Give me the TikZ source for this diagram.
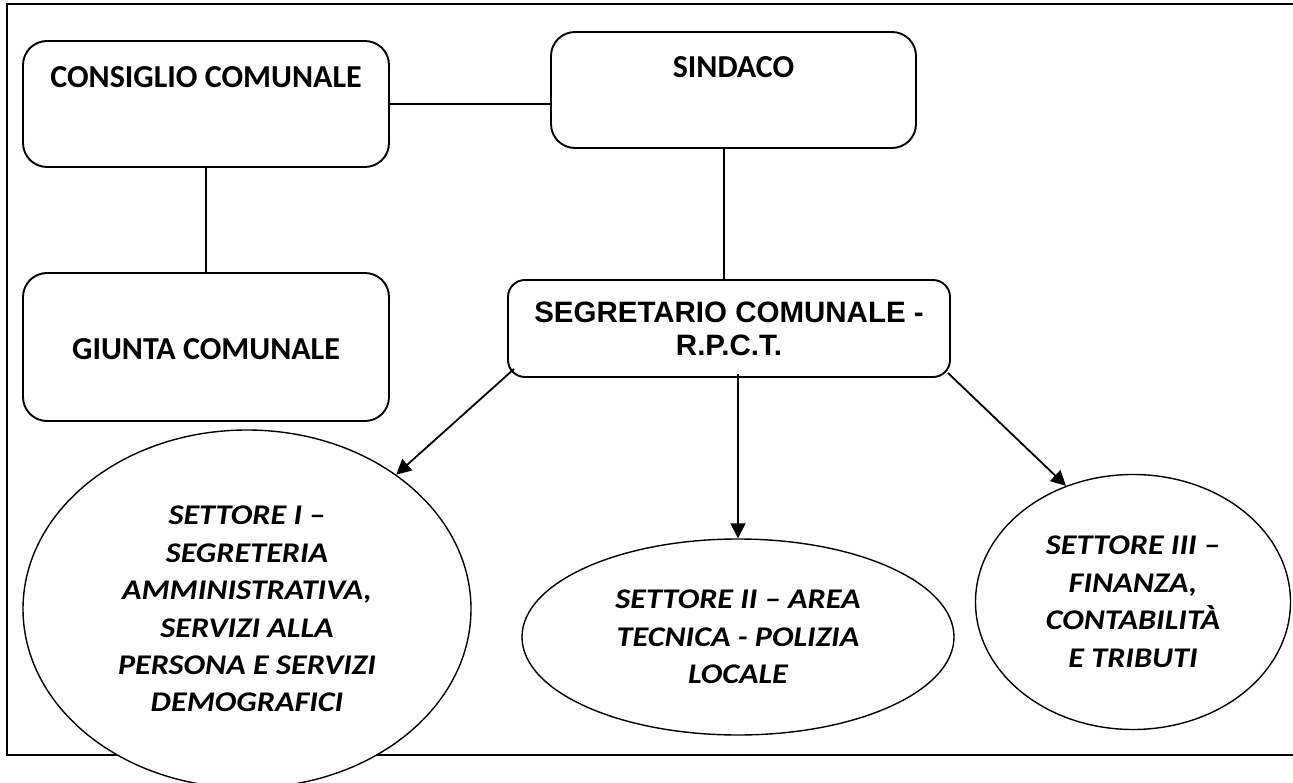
\documentclass[tikz,border=0pt]{standalone}
\usepackage{fontspec}
\setmainfont{Carlito}
\newfontfamily\settorefont{Carlito}[FakeStretch=1.13]
\newfontfamily\arialfont{Liberation Sans}
\usetikzlibrary{arrows.meta,shapes.geometric}

\begin{document}
\begin{tikzpicture}[x=1pt,y=-1pt,
organo/.style={draw,fill=white,rounded corners=24pt,line width=1.9pt,inner sep=0pt,align=center,
	font=\fontsize{32}{38}\selectfont\bfseries},
settore/.style={draw,ellipse,fill=white,line width=1.4pt,inner sep=0pt,align=center,
	font=\settorefont\fontsize{28.5}{37.5}\selectfont\bfseries\itshape},
linea/.style={line width=1.8pt},
freccia/.style={line width=1.8pt,-{Triangle[length=15pt,width=15pt]}},
cornice/.style={line width=2.6pt}]
\useasboundingbox (0,0) rectangle (1293,783);
\draw[cornice] (1300,4) -- (7,4) -- (7,755) -- (1300,755);

\node[organo,minimum width=366pt,text height=47pt,text depth=79pt] (cons) at (206,104) {CONSIGLIO COMUNALE};
\node[organo,minimum width=365pt,text height=46pt,text depth=70pt] (sind) at (733.5,90) {SINDACO};
\node[organo,minimum width=366pt,text height=87pt,text depth=61pt] (giunta) at (206,347) {GIUNTA COMUNALE};
\node[organo,rounded corners=17pt,minimum width=442pt,minimum height=97pt,
	font=\arialfont\fontsize{29.5}{33}\selectfont\bfseries] (segr) at (729,328.5) {SEGRETARIO COMUNALE -\\R.P.C.T.};

\node[settore,minimum width=448pt,minimum height=358pt] (set1) at (247,609)
	{SETTORE I –\\SEGRETERIA\\AMMINISTRATIVA,\\SERVIZI ALLA\\PERSONA E SERVIZI\\DEMOGRAFICI};
\node[settore,minimum width=432pt,minimum height=196pt] (set2) at (738,637)
	{SETTORE II – AREA\\TECNICA - POLIZIA\\LOCALE};
\node[settore,minimum width=315pt,minimum height=255pt] (set3) at (1133,602)
	{SETTORE III –\\FINANZA,\\CONTABILITÀ\\E TRIBUTI};

\draw[linea] (cons.east) -- (cons.east -| sind.west);
\draw[linea] (cons.south) -- (giunta.north);
\draw[linea] ([xshift=-9.5pt]sind.south) -- ([xshift=-9.5pt]sind.south |- segr.north);
\draw[freccia] ([shift={(7,-9)}]segr.south west) -- (set1.42);
\draw[freccia] ([shift={(9,-4)}]segr.south) -- (set2.north);
\draw[freccia] ([shift={(-3,-5)}]segr.south east) -- (set3.120);
\end{tikzpicture}
\end{document}
